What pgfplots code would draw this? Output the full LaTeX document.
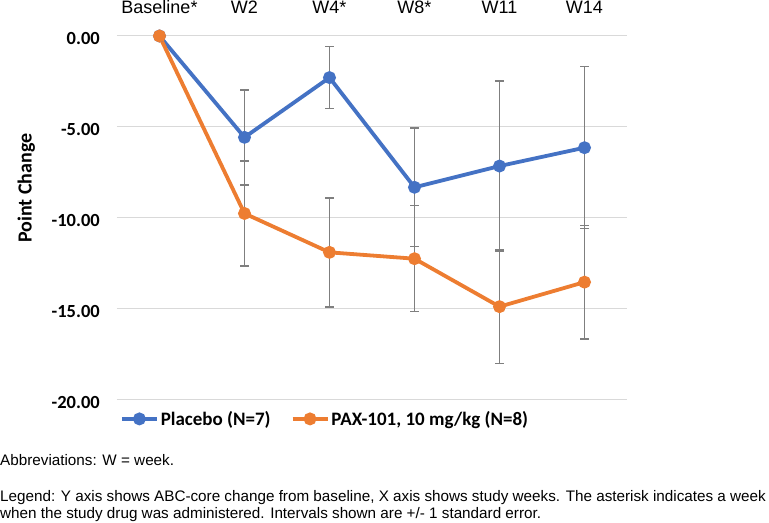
\documentclass[border=0pt]{standalone}
\usepackage{fontspec}
\setmainfont{Carlito}
\newfontfamily\arial{Liberation Sans}
\usepackage{pgfplots}
\pgfplotsset{compat=1.18}

\definecolor{cblue}{HTML}{4472C4}
\definecolor{corange}{HTML}{ED7D31}
\definecolor{cgrid}{HTML}{D9D9D9}
\definecolor{cerr}{HTML}{7F7F7F}

% week index, mean change, standard error
\pgfplotstableread{
x y e
0 0.00 0
1 -5.58 2.61
2 -2.29 1.70
3 -8.33 3.26
4 -7.16 4.68
5 -6.15 4.46
}\placebo
\pgfplotstableread{
x y e
0 0.00 0
1 -9.77 2.88
2 -11.91 3.00
3 -12.26 2.92
4 -14.90 3.12
5 -13.55 3.13
}\pax

\begin{document}
\begin{tikzpicture}
\begin{axis}[
scale only axis,
width=510bp, height=363.3bp,
xmin=-0.5, xmax=5.5,
ymin=-20, ymax=0,
clip=false,
axis line style={draw=none},
major tick length=0pt,
xtick={0,...,5},
xticklabels={Baseline*, W2, W4*, W8*, W11, W14},
xticklabel pos=upper,
xticklabel style={font=\arial\fontsize{18bp}{21bp}\selectfont, anchor=base, inner sep=0pt, yshift=22bp},
ytick={-20,-15,-10,-5,0},
yticklabels={-20.00,-15.00,-10.00,-5.00,0.00},
yticklabel style={font=\bfseries\fontsize{18.5bp}{21bp}\selectfont, anchor=east, inner sep=0pt, xshift=-17bp, yshift=-3bp},
ymajorgrids,
grid style={cgrid, line width=1bp},
ylabel={Point Change},
ylabel style={font=\bfseries\fontsize{20bp}{23bp}\selectfont, at={(axis description cs:-0.178,0.581)}, anchor=center},
legend columns=2,
legend style={draw=none, fill=none, at={(axis description cs:0.408,-0.054)}, anchor=center,
  font=\bfseries\fontsize{19bp}{22bp}\selectfont, /tikz/every even column/.append style={column sep=18bp}},
legend image code/.code={\draw[mark repeat=2, mark phase=2, #1] plot coordinates {(0bp,0bp) (17.5bp,0bp) (35bp,0bp)};},
error bars/error bar style={cerr, line width=1.5bp},
error bars/error mark options={rotate=90, mark size=4.3bp, cerr, line width=1.5bp},
]

\addplot[cblue, line width=3.8bp, mark=*, mark size=4.5bp,
  error bars/.cd, y dir=both, y explicit]
  table[x=x, y=y, y error=e] {\placebo};
\addlegendentry{Placebo (N=7)}

\addplot[corange, line width=3.8bp, mark=*, mark size=4.5bp,
  error bars/.cd, y dir=both, y explicit]
  table[x=x, y=y, y error=e] {\pax};
\addlegendentry{PAX-101, 10 mg/kg (N=8)}

\end{axis}

% footnotes below the chart
\node[anchor=base west, inner sep=0pt, font=\arial\fontsize{15.25bp}{17bp}\selectfont] at (-117bp,-66.7bp) {Abbreviations: W = week.};
\node[anchor=base west, inner sep=0pt, font=\arial\fontsize{15.25bp}{17bp}\selectfont] at (-117bp,-102.7bp) {Legend: Y axis shows ABC-core change from baseline, X axis shows study weeks. The asterisk indicates a week};
\node[anchor=base west, inner sep=0pt, font=\arial\fontsize{15.25bp}{17bp}\selectfont] at (-117bp,-119.7bp) {when the study drug was administered. Intervals shown are +/- 1 standard error.};

\path[use as bounding box] (-117bp,-121.7bp) rectangle (652bp,399.3bp);
\end{tikzpicture}
\end{document}
